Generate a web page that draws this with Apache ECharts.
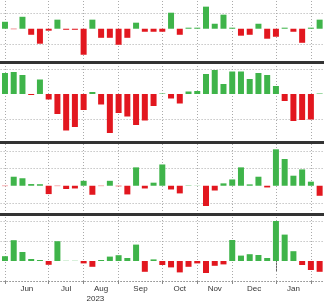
<!DOCTYPE html>
<html><head><meta charset="utf-8">
<script src="https://cdn.jsdelivr.net/npm/echarts@6/dist/echarts.min.js"></script>
<style>html,body{margin:0;padding:0;background:#fff}#c{width:324px;height:304px}</style>
</head><body><div id="c"></div>
<script>
// weekly categories (Fridays)
const weeks = ['2023-06-02','2023-06-09','2023-06-16','2023-06-23','2023-06-30',
  '2023-07-07','2023-07-14','2023-07-21','2023-07-28',
  '2023-08-04','2023-08-11','2023-08-18','2023-08-25',
  '2023-09-01','2023-09-08','2023-09-15','2023-09-22','2023-09-29',
  '2023-10-06','2023-10-13','2023-10-20','2023-10-27',
  '2023-11-03','2023-11-10','2023-11-17','2023-11-24',
  '2023-12-01','2023-12-08','2023-12-15','2023-12-22','2023-12-29',
  '2024-01-05','2024-01-12','2024-01-19','2024-01-26',
  '2024-02-02','2024-02-09'];
const monthLabels = ['Jun','Jul','Aug','Sep','Oct','Nov','Dec','Jan'];
const yearLabel = '2023';
const yearLabelWeek = '2023-08-11';

const panel1 = [0.46,-0.03,0.79,-0.40,-0.99,-0.13,0.60,-0.07,-0.07,-1.72,0.60,-0.60,-0.60,-1.06,-0.60,0.40,-0.20,-0.20,-0.20,1.06,-0.40,0.07,0.07,1.46,0.33,0.93,0.07,-0.46,-0.40,0.33,-0.66,-0.53,0.07,-0.20,-0.93,0.07,0.60];
const panel2 = [0.84,0.88,0.76,-0.04,0.58,-0.22,-0.80,-1.46,-1.32,-0.64,0.08,-0.42,-1.56,-0.76,-0.90,-1.24,-1.06,-0.48,0.02,-0.18,-0.38,0.10,0.12,0.80,0.96,0.40,0.90,0.90,0.60,0.84,0.76,0.32,-0.28,-1.08,-1.04,-1.02,0.02];
const panel3 = [-0.02,0.53,0.44,0.10,0.09,-0.49,-0.02,-0.19,-0.16,0.29,-0.53,-0.02,0.29,-0.03,-0.51,1.08,-0.16,0.18,1.25,-0.22,-0.45,0.02,0.01,-1.19,-0.28,0.14,0.37,1.08,0.08,0.53,-0.10,2.14,1.57,0.59,0.96,0.24,-0.59];
const panel4 = [0.24,1.04,0.45,0.10,0.05,-0.19,0.99,0.01,0.01,-0.12,-0.29,0.05,0.22,0.29,0.15,0.82,-0.54,0.08,-0.20,-0.32,-0.57,-0.29,-0.12,-0.60,-0.24,-0.17,1.05,0.27,0.34,0.30,0.15,2.00,1.32,0.49,-0.20,-0.45,-0.54];

const panel1Grid = [-1, 1];
const panel2Grid = [-1, 1];
const panel3Grid = [-1, 1, 2];
const panel4Grid = [1, 2];

const panels = [panel1, panel2, panel3, panel4];
const gridVals = [panel1Grid, panel2Grid, panel3Grid, panel4Grid];
const yRanges = [[-2.2, 1.9], [-1.92, 1.28], [-1.66, 2.57], [-1, 2.35]];
const boxes = [[0, 62], [62, 80], [142, 72], [214, 67]];

const GREEN = '#3fb44a', RED = '#e2171f';
const FONT = "'Liberation Sans Narrow','Liberation Sans',Arial,sans-serif";

// month boundaries derived from categories
const monthStarts = [];
weeks.forEach((w, i) => { if (i === 0 || w.slice(0, 7) !== weeks[i - 1].slice(0, 7)) monthStarts.push(i); });
const monthStartSet = new Set(monthStarts);
const labelAt = {};
for (let m = 0; m < monthLabels.length; m++) {
  const s = monthStarts[m], e = monthStarts[m + 1];
  const c = (s + e) / 2;
  labelAt[Math.floor(c)] = { text: monthLabels[m], half: (s + e) % 2 === 1 };
}
const yearStartIdx = weeks.findIndex((w, i) => i > 0 && w.slice(0, 4) !== weeks[i - 1].slice(0, 4));
const yearLabelIdx = weeks.indexOf(yearLabelWeek);

const chart = echarts.init(document.getElementById('c'), null, { renderer: 'canvas' });
const bandPx = 325.6 / weeks.length;

const grid = boxes.map(b => ({ left: 0.6, width: 325.6, top: b[0], height: b[1] }));
const xAxis = [];
for (let k = 0; k < 3; k++) {
  xAxis.push({ type: 'category', gridIndex: k, data: weeks, boundaryGap: true, z: 3,
    axisLine: { show: true, onZero: false, lineStyle: { color: '#333', width: 3 } },
    axisTick: { show: false }, axisLabel: { show: false }, splitLine: { show: false } });
}
xAxis.push({ type: 'category', gridIndex: 3, data: weeks, boundaryGap: true, z: 3,
  axisLine: { show: true, onZero: false, lineStyle: { color: '#999', width: 1, type: [1, 2] } },
  axisTick: { show: true, alignWithLabel: true, length: 3, interval: (i) => monthStartSet.has(i), lineStyle: { color: '#888' } },
  axisLabel: { show: true, margin: 4, interval: (i) => labelAt[i] !== undefined,
    formatter: (v, i) => labelAt[i] ? (labelAt[i].half ? '{h|' + labelAt[i].text + '}' : '{n|' + labelAt[i].text + '}') : '',
    rich: { h: { padding: [0, 0, 0, bandPx], fontSize: 8, color: '#333', fontFamily: FONT },
            n: { fontSize: 8, color: '#333', fontFamily: FONT } },
    fontSize: 8, color: '#333', fontFamily: FONT },
  splitLine: { show: false } });
xAxis.push({ type: 'category', gridIndex: 3, data: weeks, boundaryGap: true, position: 'bottom', offset: 12,
  axisLine: { show: false },
  axisTick: { show: true, alignWithLabel: true, length: 11, interval: (i) => i === yearStartIdx, lineStyle: { color: '#666' } },
  axisLabel: { show: true, margin: 2, interval: (i) => i === yearLabelIdx,
    formatter: () => '{y|' + yearLabel + '}',
    rich: { y: { padding: [0, 0, 0, 6], fontSize: 8, color: '#333', fontFamily: FONT } },
    fontSize: 8, color: '#333', fontFamily: FONT },
  splitLine: { show: false } });

const yAxis = yRanges.map((r, k) => ({ type: 'value', gridIndex: k, min: r[0], max: r[1], show: false }));

const series = panels.map((d, k) => ({
  type: 'bar', xAxisIndex: k, yAxisIndex: k, data: d, barWidth: 6, z: 2,
  itemStyle: { color: (p) => p.value >= 0 ? GREEN : RED },
  markLine: { silent: true, symbol: 'none', z: 1, animation: false,
    label: { show: false },
    lineStyle: { type: [1, 2], color: '#aaa', width: 1 },
    emphasis: { disabled: true },
    data: monthStarts.map(i => ({ xAxis: weeks[i] })).concat(gridVals[k].map(v => ({ yAxis: v }))) }
}));

chart.setOption({ animation: false, grid, xAxis, yAxis, series });
</script></body></html>
